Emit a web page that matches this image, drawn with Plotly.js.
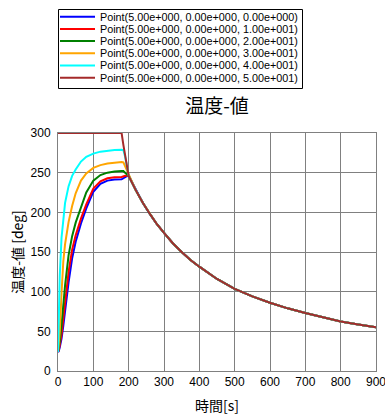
<!DOCTYPE html>
<html>
<head>
<meta charset="utf-8">
<script src="https://cdn.plot.ly/plotly-3.0.1.min.js"></script>
<style>html,body{margin:0;padding:0;background:#fff;}#chart{width:385px;height:420px;}</style>
</head>
<body>
<div id="chart"></div>
<script>
// ---- data ----
const seriesNames = [
  "Point(5.00e+000, 0.00e+000, 0.00e+000)",
  "Point(5.00e+000, 0.00e+000, 1.00e+001)",
  "Point(5.00e+000, 0.00e+000, 2.00e+001)",
  "Point(5.00e+000, 0.00e+000, 3.00e+001)",
  "Point(5.00e+000, 0.00e+000, 4.00e+001)",
  "Point(5.00e+000, 0.00e+000, 5.00e+001)"
];
const seriesColors = ["#0000FF", "#FF0000", "#008000", "#FFA500", "#00FFFF", "#A52A2A"];

// heating phase times (s)
const tHeat   = [0, 2, 5, 10, 15, 20, 30, 40, 50, 65, 80, 100, 120, 140, 160, 180, 185, 190, 195];
const vBlue   = [24, 25, 30, 41, 57, 76, 112, 142, 163, 186, 205, 226, 236, 240, 241.3, 241.6, 243, 244.5, 245.5];
const vRed    = [24, 26, 33, 46, 66, 87, 125, 153, 171, 192, 210, 230, 239, 243, 244.3, 244.6, 245.5, 246, 246];
const vGreen  = [24, 28, 38, 58, 84, 108, 146, 170, 187, 207, 225, 240, 247, 250, 251.5, 252, 252, 250, 248];
const vOrange = [24, 32, 50, 98, 138, 160, 188, 208, 224, 240, 249, 256, 259.5, 261.5, 262.8, 263.5, 263, 258, 251];
const vCyan   = [24, 60, 120, 168, 192, 212, 233, 246, 254, 264, 270, 274, 276.5, 278, 278.7, 279, 278.5, 270, 257];
const vBrown  = [300, 300, 300, 300, 300, 300, 300, 300, 300, 300, 300, 300, 300, 300, 300, 300, 285, 270, 256];

// common cooling phase (all curves coincide)
const tCool = [200, 220, 240, 260, 280, 300, 325, 350, 375, 400, 450, 500, 550, 600, 650, 700, 750, 800, 850, 900];
const vCool = [246, 228, 212, 198, 185, 174, 161, 150, 140, 131.5, 116, 103.5, 94, 86, 79, 73, 67.5, 62.5, 58.5, 55];

const heatValues = [vBlue, vRed, vGreen, vOrange, vCyan, vBrown];

const xTickVals = [0, 100, 200, 300, 400, 500, 600, 700, 800, 900];
const yTickVals = [0, 50, 100, 150, 200, 250, 300];

// ---- build traces ----
const traces = heatValues.map((hv, i) => ({
  type: "scatter",
  mode: "lines",
  name: seriesNames[i],
  x: tHeat.concat(tCool),
  y: hv.concat(vCool),
  line: {color: seriesColors[i], width: 2},
  hoverinfo: "skip",
  showlegend: false
}));

// ---- manual compact legend (pixel layout -> paper coords) ----
const M = {l: 58, r: 9, t: 133, b: 49};
const W = 385, H = 420;
const pw = W - M.l - M.r, ph = H - M.t - M.b;
const px2x = p => (p - M.l) / pw;
const py2y = p => (H - M.b - p) / ph;

const shapes = [{
  type: "rect", xref: "paper", yref: "paper",
  x0: px2x(58.5), x1: px2x(302.5), y0: py2y(88.5), y1: py2y(9.5),
  line: {color: "#000", width: 1}, fillcolor: "#fff", layer: "above"
}];
const annotations = [];
seriesNames.forEach((nm, i) => {
  const cy = 16.7 + i * 12.2;
  shapes.push({
    type: "line", xref: "paper", yref: "paper",
    x0: px2x(60), x1: px2x(95), y0: py2y(cy), y1: py2y(cy),
    line: {color: seriesColors[i], width: 2}, layer: "above"
  });
  annotations.push({
    xref: "paper", yref: "paper", x: px2x(98.5), y: py2y(cy),
    xanchor: "left", yanchor: "middle", showarrow: false, text: nm,
    borderpad: 0,
    font: {family: "Liberation Sans, Arial, sans-serif", size: 10.8, color: "#000"}
  });
});

const axisFont = {family: "Liberation Sans Narrow, Arial Narrow, sans-serif", size: 12, color: "#000"};
const cjkFont = "Noto Sans CJK JP, sans-serif";

const layout = {
  width: W, height: H,
  margin: M,
  paper_bgcolor: "#fff",
  plot_bgcolor: "#fff",
  showlegend: false,
  title: {
    text: "温度-値",
    font: {family: cjkFont, size: 19, color: "#000"},
    x: 0.5, xref: "paper", xanchor: "center",
    y: 1 - 106 / H, yref: "container", yanchor: "middle"
  },
  xaxis: {
    range: [0, 900],
    tickvals: xTickVals,
    ticktext: xTickVals.map(String),
    showgrid: true, gridcolor: "#808080", gridwidth: 1,
    showline: true, mirror: true, linecolor: "#808080", linewidth: 1,
    zeroline: false, ticks: "",
    ticklabeloverflow: "allow",
    tickfont: axisFont,
    title: {text: "時間[s]", font: {family: cjkFont, size: 14, color: "#000"}, standoff: 12}
  },
  yaxis: {
    range: [0, 300],
    tickvals: yTickVals,
    ticktext: yTickVals.map(String),
    showgrid: true, gridcolor: "#808080", gridwidth: 1,
    showline: true, mirror: true, linecolor: "#808080", linewidth: 1,
    zeroline: false, ticks: "",
    ticklabeloverflow: "allow",
    tickfont: axisFont,
    ticklabelstandoff: 4,
    title: {text: "温度-値 [deg]", font: {family: cjkFont, size: 14, color: "#000"}, standoff: 3}
  },
  shapes: shapes,
  annotations: annotations
};

Plotly.newPlot("chart", traces, layout, {staticPlot: true, displayModeBar: false});
</script>
</body>
</html>
